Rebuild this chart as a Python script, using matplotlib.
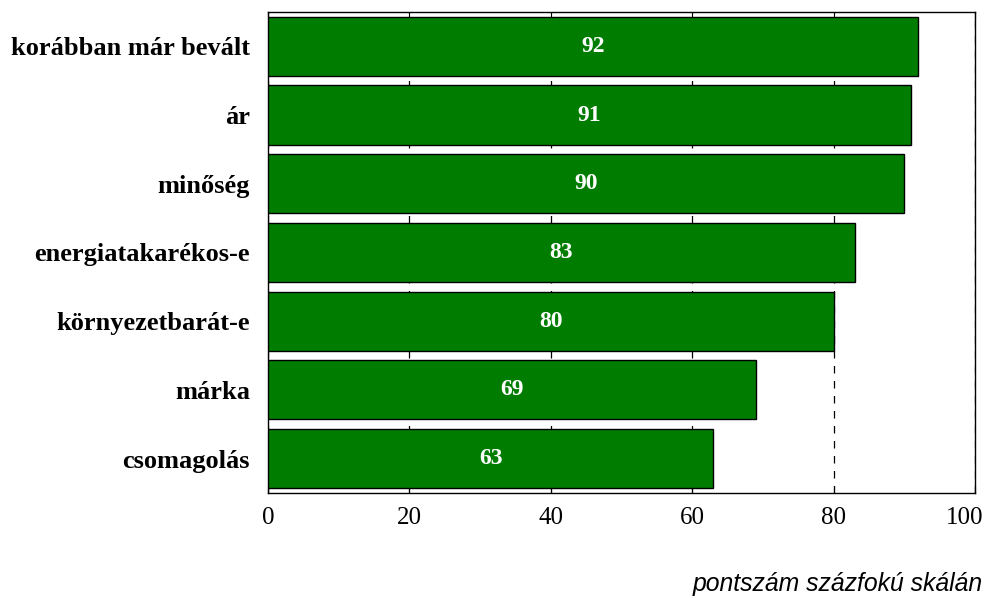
import matplotlib.pyplot as plt
import matplotlib.transforms as mtransforms
import numpy as np

# Data
categories = ["korábban már bevált", "ár", "minőség", "energiatakarékos-e",
              "környezetbarát-e", "márka", "csomagolás"]
scores = [92, 91, 90, 83, 80, 69, 63]
xticks = [0, 20, 40, 60, 80, 100]

BAR_GREEN = "#007d00"
SERIF = "Liberation Serif"

fig = plt.figure(figsize=(9.95, 5.98), dpi=100)
ax = fig.add_axes([0.2693, 0.1756, 0.7106, 0.8044])

y = np.arange(len(categories))
bars = ax.barh(y, scores, height=0.86, color=BAR_GREEN, edgecolor="black",
               linewidth=1.0, zorder=3)

for rect, val in zip(bars, scores):
    ax.text(val / 2, rect.get_y() + rect.get_height() / 2, str(val),
            ha="center", va="center", color="white", fontsize=17,
            fontweight="bold", family=SERIF, zorder=4)

ax.set_ylim(len(categories) - 0.5, -0.5)
ax.set_xlim(0, 100)
ax.set_xticks(xticks)
ax.set_xticklabels([str(t) for t in xticks], family=SERIF, fontsize=18)
ax.set_yticks(y)
ax.set_yticklabels(categories, family=SERIF, fontsize=19, fontweight="bold")
ax.tick_params(axis="x", direction="in", length=5, top=True, pad=10)
ax.tick_params(axis="y", length=0, pad=13)

# last tick label pulled a bit inside the figure
last = ax.get_xticklabels()[-1]
last.set_transform(last.get_transform() +
                   mtransforms.ScaledTranslation(-10 / 100, 0, fig.dpi_scale_trans))

ax.xaxis.grid(True, linestyle=(0, (6, 6)), color="black", linewidth=0.9, zorder=1)
ax.set_axisbelow(True)
for s in ax.spines.values():
    s.set_linewidth(1.0)

fig.text(0.988, 0.012, "pontszám százfokú skálán", ha="right", va="baseline",
         fontsize=17.8, style="italic", family="Liberation Sans")

fig.savefig("out.png", dpi=100)
